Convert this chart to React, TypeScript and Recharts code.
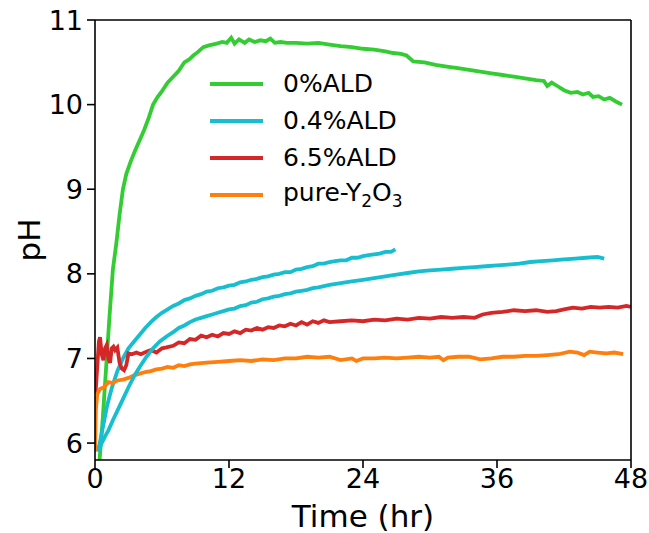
import React from 'react';
import {
  LineChart, Line, XAxis, YAxis, Legend,
} from 'recharts';

type Pt = { t: number; ph: number };
const toPts = (rows: number[][]): Pt[] => rows.map(([t, ph]) => ({ t, ph }));

// time in hr, pH
const ald0 = toPts([
  [0.35, 5.7], [0.7, 6.3], [1.0, 6.9], [1.3, 7.5], [1.6, 8.05], [1.9, 8.35], [2.2, 8.7], [2.5, 9.0],
  [2.8, 9.18], [3.2, 9.33], [3.6, 9.46], [4.0, 9.58], [4.4, 9.7], [4.8, 9.84], [5.2, 10.0], [5.6, 10.09],
  [6.0, 10.16], [6.5, 10.26], [7.0, 10.33], [7.5, 10.4], [8.0, 10.5], [8.4, 10.53], [8.8, 10.58],
  [9.2, 10.62], [9.7, 10.68], [10.2, 10.7], [10.9, 10.72], [11.4, 10.74], [11.8, 10.73], [12.2, 10.79],
  [12.5, 10.72], [12.9, 10.77], [13.4, 10.73], [13.8, 10.77], [14.3, 10.74], [14.8, 10.76], [15.3, 10.75],
  [15.7, 10.78], [16.1, 10.73], [16.6, 10.74], [17.2, 10.73], [18, 10.73], [19, 10.72], [20, 10.73],
  [21, 10.71], [22, 10.69], [23, 10.68], [24, 10.66], [25, 10.65], [26, 10.63], [26.7, 10.61],
  [27.4, 10.6], [27.9, 10.58], [28.5, 10.51], [29.5, 10.5], [30.5, 10.47], [31.5, 10.45], [32.5, 10.43],
  [33.5, 10.41], [34.5, 10.39], [35.5, 10.37], [36.5, 10.35], [37.5, 10.33], [38.5, 10.31], [39.5, 10.29],
  [40.2, 10.28], [40.5, 10.22], [40.9, 10.26], [41.4, 10.22], [42, 10.17], [42.6, 10.14], [43.2, 10.15],
  [43.7, 10.12], [44.2, 10.14], [44.6, 10.09], [45.1, 10.1], [45.6, 10.06], [46.1, 10.08], [46.6, 10.04],
  [47.2, 10.0],
]);

const ald04a = toPts([
  [0.25, 5.9], [0.5, 6.05], [0.8, 6.25], [1.1, 6.45], [1.5, 6.65], [2.0, 6.85], [2.5, 7.0], [3.0, 7.12],
  [3.5, 7.2], [4.0, 7.28], [4.5, 7.36], [5.0, 7.43], [5.5, 7.49], [6.0, 7.54], [6.5, 7.58], [7.0, 7.62],
  [7.5, 7.65], [8.0, 7.69], [8.5, 7.71], [9.0, 7.74], [9.5, 7.76], [10, 7.79], [10.5, 7.8], [11, 7.83],
  [11.5, 7.84], [12, 7.86], [12.5, 7.87], [13, 7.9], [13.5, 7.91], [14, 7.93], [14.5, 7.94], [15, 7.96],
  [15.5, 7.97], [16, 7.99], [16.5, 8.0], [17, 8.02], [17.5, 8.02], [18, 8.05], [18.5, 8.06], [19, 8.08],
  [19.5, 8.09], [20, 8.12], [20.5, 8.12], [21, 8.14], [21.5, 8.15], [22, 8.16], [22.5, 8.16], [23, 8.19],
  [23.5, 8.19], [24, 8.21], [24.5, 8.22], [25, 8.23], [25.5, 8.24], [26, 8.26], [26.5, 8.26], [26.9, 8.29],
]);

const ald04b = toPts([
  [0.3, 5.9], [0.6, 6.0], [0.9, 6.08], [1.2, 6.15], [1.6, 6.27], [2.0, 6.38], [2.5, 6.52], [3.0, 6.66],
  [3.5, 6.79], [4.0, 6.9], [4.6, 7.02], [5.2, 7.12], [5.8, 7.2], [6.4, 7.26], [7.0, 7.31], [7.5, 7.36],
  [8.0, 7.39], [8.5, 7.43], [9.0, 7.46], [9.5, 7.48], [10, 7.5], [10.5, 7.52], [11, 7.54], [11.5, 7.56],
  [12, 7.58], [12.5, 7.59], [13, 7.62], [13.5, 7.63], [14, 7.66], [14.5, 7.67], [15, 7.7], [15.5, 7.71],
  [16, 7.73], [16.5, 7.74], [17, 7.76], [17.5, 7.77], [18, 7.79], [18.5, 7.8], [19, 7.81], [19.5, 7.83],
  [20, 7.84], [21, 7.87], [22, 7.89], [23, 7.91], [24, 7.93], [25, 7.95], [26, 7.97], [27, 7.99],
  [28, 8.01], [29, 8.03], [30, 8.04], [31, 8.05], [32, 8.06], [33, 8.07], [34, 8.08], [35, 8.09],
  [36, 8.1], [37, 8.11], [38, 8.12], [39, 8.14], [40, 8.15], [41, 8.16], [42, 8.17], [43, 8.18],
  [44, 8.19], [45, 8.2], [45.6, 8.18],
]);

const ald65 = toPts([
  [0.05, 6.59], [0.2, 6.9], [0.35, 7.2], [0.45, 7.25], [0.6, 7.05], [0.75, 6.98], [0.9, 7.12], [1.05, 7.16],
  [1.2, 7.0], [1.35, 6.95], [1.5, 7.12], [1.65, 7.14], [1.8, 7.1], [2.0, 7.13], [2.2, 6.95], [2.4, 6.88],
  [2.6, 6.86], [2.8, 6.92], [3.0, 7.06], [3.3, 7.05], [3.7, 7.07], [4.1, 7.05], [4.6, 7.08], [5.0, 7.1],
  [5.5, 7.07], [6.0, 7.12], [6.4, 7.13], [7.0, 7.15], [7.5, 7.19], [8.0, 7.18], [8.5, 7.23], [9.0, 7.22],
  [9.5, 7.27], [10, 7.25], [10.5, 7.28], [11, 7.26], [11.5, 7.3], [12, 7.29], [12.5, 7.32], [13, 7.3],
  [13.5, 7.34], [14, 7.33], [14.5, 7.36], [15, 7.34], [15.5, 7.37], [16, 7.36], [16.5, 7.39], [17, 7.38],
  [17.5, 7.41], [18, 7.39], [18.5, 7.43], [19, 7.4], [19.5, 7.44], [20, 7.42], [20.5, 7.45], [21, 7.43],
  [22, 7.44], [23, 7.45], [24, 7.44], [25, 7.46], [26, 7.45], [27, 7.47], [28, 7.46], [29, 7.48],
  [30, 7.47], [31, 7.49], [32, 7.48], [33, 7.49], [34, 7.48], [34.7, 7.52], [35.5, 7.54], [36.5, 7.55],
  [37.5, 7.57], [38.5, 7.56], [39.5, 7.57], [40.5, 7.55], [41.3, 7.56], [42, 7.58], [42.8, 7.6],
  [43.6, 7.59], [44.4, 7.61], [45.2, 7.6], [46, 7.61], [46.8, 7.6], [47.6, 7.62], [48, 7.61],
]);

const pureY2O3 = toPts([
  [0.0, 5.9], [0.08, 6.4], [0.2, 6.58], [0.45, 6.64], [0.8, 6.66], [1.2, 6.72], [1.6, 6.71], [2.0, 6.74],
  [2.5, 6.75], [3.0, 6.77], [3.5, 6.8], [4.0, 6.82], [4.5, 6.84], [5.0, 6.85], [5.5, 6.87], [6.0, 6.88],
  [6.5, 6.9], [7.0, 6.89], [7.5, 6.92], [8.0, 6.91], [8.5, 6.93], [9.0, 6.94], [10, 6.95], [11, 6.96],
  [12, 6.97], [13, 6.98], [14, 6.97], [15, 6.99], [16, 6.98], [17, 7.0], [18, 7.0], [19, 7.02], [20, 7.01],
  [21, 7.02], [22, 6.98], [23, 7.0], [23.4, 6.97], [24, 7.0], [25, 7.0], [26, 7.01], [27, 7.0], [28, 7.01],
  [29, 7.02], [30, 7.01], [30.8, 7.02], [31.2, 6.98], [31.6, 7.01], [32.5, 7.02], [33.5, 7.02],
  [34.5, 6.99], [35.5, 7.0], [36.5, 7.02], [37.5, 7.02], [38.5, 7.03], [39.5, 7.03], [40.5, 7.04],
  [41.5, 7.05], [42.5, 7.08], [43.2, 7.07], [43.8, 7.04], [44.3, 7.08], [45, 7.07], [45.8, 7.06],
  [46.5, 7.07], [47.3, 7.05],
]);

const xTicks = [0, 12, 24, 36, 48];
const yTicks = [6, 7, 8, 9, 10, 11];

const FONT = '"DejaVu Sans", sans-serif';
const axisStroke = { stroke: '#000', strokeWidth: 1.6 };

function LegendBox({ payload }: any) {
  // second 0.4%ALD run shares the legend entry
  const items = (payload || []).filter((p: any) => !String(p.value).includes('run 2'));
  return (
    <div style={{ fontFamily: FONT, fontSize: 25, color: '#000' }}>
      {items.map((p: any) => (
        <div key={p.value} style={{ display: 'flex', alignItems: 'center', height: 37 }}>
          <svg width={53} height={8} style={{ marginRight: 20 }}>
            <line x1={0} y1={4} x2={53} y2={4} stroke={p.color} strokeWidth={4} />
          </svg>
          {p.value === 'pure-Y2O3'
            ? <span>pure-Y<sub style={{ fontSize: 17 }}>2</sub>O<sub style={{ fontSize: 17 }}>3</sub></span>
            : <span>{p.value}</span>}
        </div>
      ))}
    </div>
  );
}

function PhLabel({ viewBox }: any) {
  const cy = viewBox.y + viewBox.height / 2;
  return (
    <text x={29} y={cy} transform={`rotate(-90, 29, ${cy})`} textAnchor="middle"
      dominantBaseline="central" fontSize={31} fontFamily={FONT} fill="#000">pH</text>
  );
}

export default function App() {
  const tickStyle = { fontSize: 27, fill: '#000', fontFamily: FONT };
  return (
    <div>
      <style>{'body { margin: 0; }'}</style>
      <LineChart width={649} height={533} margin={{ top: 8, right: 0, bottom: 0, left: 15 }}>
        <XAxis xAxisId="b" dataKey="t" type="number" domain={[0, 48]} ticks={xTicks} allowDataOverflow
          height={73} tickSize={8} tickMargin={1} axisLine={axisStroke} tickLine={axisStroke} tick={tickStyle}
          label={{ value: 'Time (hr)', position: 'insideBottom', offset: 6, fontSize: 31, fill: '#000', fontFamily: FONT }} />
        <XAxis xAxisId="top" orientation="top" dataKey="t" type="number" domain={[0, 48]} ticks={xTicks}
          allowDataOverflow height={12} tickSize={8} axisLine={axisStroke} tickLine={axisStroke} tick={false} />
        <YAxis yAxisId="l" type="number" domain={[5.8, 11]} ticks={yTicks} allowDataOverflow width={80}
          tickSize={8} tickMargin={4} axisLine={axisStroke} tickLine={axisStroke} tick={tickStyle}
          label={<PhLabel />} />
        <YAxis yAxisId="r" orientation="right" type="number" domain={[5.8, 11]} ticks={yTicks} allowDataOverflow
          width={18} tickSize={8} axisLine={axisStroke} tickLine={axisStroke} tick={false} />
        <Legend layout="vertical" align="center" verticalAlign="middle" content={<LegendBox />}
          wrapperStyle={{ left: 210, top: 65, width: 'auto' }} />
        <Line xAxisId="b" yAxisId="l" data={ald0} dataKey="ph" name="0%ALD" stroke="#33cc33" strokeWidth={3.8}
          dot={false} isAnimationActive={false} />
        <Line xAxisId="b" yAxisId="l" data={ald04a} dataKey="ph" name="0.4%ALD" stroke="#17becf" strokeWidth={3.8}
          dot={false} isAnimationActive={false} />
        <Line xAxisId="b" yAxisId="l" data={ald65} dataKey="ph" name="6.5%ALD" stroke="#d62728" strokeWidth={3.8}
          dot={false} isAnimationActive={false} />
        <Line xAxisId="b" yAxisId="l" data={pureY2O3} dataKey="ph" name="pure-Y2O3" stroke="#ff7f0e" strokeWidth={3.8}
          dot={false} isAnimationActive={false} />
        <Line xAxisId="b" yAxisId="l" data={ald04b} dataKey="ph" name="0.4%ALD run 2" stroke="#17becf" strokeWidth={3.8}
          dot={false} isAnimationActive={false} legendType="none" />
      </LineChart>
    </div>
  );
}
